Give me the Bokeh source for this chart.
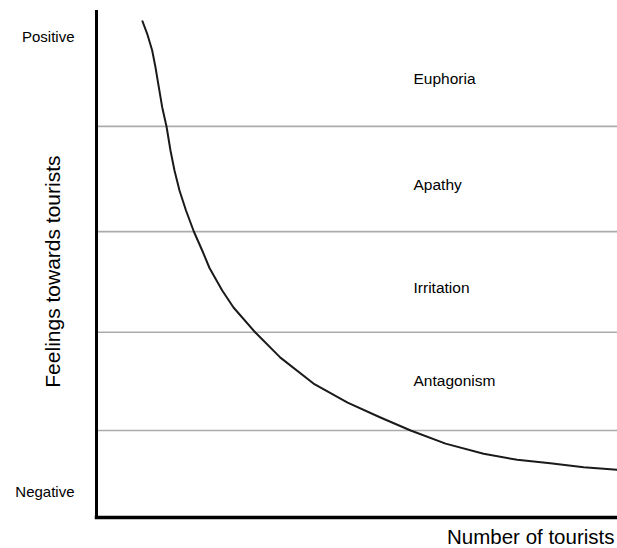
import math
from bokeh.plotting import figure
from bokeh.models import ColumnDataSource, Range1d
from bokeh.core.properties import value
from bokeh.embed import file_html
from bokeh.resources import INLINE

# ---- data ----
curve_x = [8.77, 9.73, 10.69, 11.32, 11.96, 12.61, 13.44, 14.2, 14.97, 15.93, 17.18,
           18.68, 20.29, 21.69, 24.13, 26.3, 30.5, 35.3, 41.65, 48.2, 54.5, 60.3,
           67.0, 74.3, 80.75, 87.1, 93.5, 100.0]
curve_y = [98.22, 95.59, 92.29, 88.99, 85.04, 81.09, 77.27, 72.53, 68.58, 64.62, 60.67,
           56.52, 52.77, 49.31, 44.86, 41.5, 36.56, 31.6, 26.48, 22.7, 19.76, 17.2,
           14.6, 12.6, 11.4, 10.7, 9.94, 9.43]

zone_bounds = [77.3, 56.5, 36.6, 17.2]
zone_names = ["Euphoria", "Apathy", "Irritation", "Antagonism"]
zone_label_y = [86.8, 65.9, 45.5, 27.1]
zone_label_x = [60.85, 60.85, 60.85, 60.85]

pole_names = ["Positive", "Negative"]
pole_y = [95.0, 5.1]

x_title = "Number of tourists"
y_title = "Feelings towards tourists"

x_min, x_max = 0.0, 100.0     # data extent of the axes
y_min, y_max = 0.0, 100.0

FONT = "Liberation Sans"

# ---- layout (pixels) ----
W, H = 617, 548
FRAME_L, FRAME_R = 96, 617     # where x_min / x_max fall on the canvas
FRAME_T, FRAME_B = 11, 517     # where y_max / y_min fall on the canvas
sx = (FRAME_R - FRAME_L) / (x_max - x_min)
sy = (FRAME_B - FRAME_T) / (y_max - y_min)

def px_to_x(px):
    return x_min + (px - FRAME_L) / sx

def px_to_y(py):
    return y_min + (FRAME_B - py) / sy

p = figure(width=W, height=H,
           x_range=Range1d(px_to_x(0), px_to_x(W)),
           y_range=Range1d(px_to_y(H), px_to_y(0)),
           x_axis_location=None, y_axis_location=None,
           output_backend="svg", toolbar_location=None, min_border=0)
p.outline_line_color = None
p.background_fill_color = "white"
p.border_fill_color = "white"
p.grid.visible = False

# zone boundary lines
p.segment(x0=[x_min] * len(zone_bounds), x1=[x_max] * len(zone_bounds),
          y0=zone_bounds, y1=zone_bounds, line_color="#ababab", line_width=1.6)

# curve
p.line(curve_x, curve_y, line_color="#1a1a1a", line_width=2, line_join="round")

# axis lines
p.segment(x0=[x_min], y0=[y_min], x1=[x_min], y1=[y_max],
          line_color="black", line_width=3, line_cap="square")
p.segment(x0=[x_min], y0=[y_min], x1=[x_max], y1=[y_min],
          line_color="black", line_width=3.5, line_cap="square")

# zone labels
zsrc = ColumnDataSource(dict(x=zone_label_x, y=zone_label_y, t=zone_names))
p.text(x="x", y="y", text="t", source=zsrc, text_align="left",
       text_baseline="middle", text_font_size="15.5px", text_color="black",
       text_font=value(FONT))

# Positive / Negative
psrc = ColumnDataSource(dict(x=[px_to_x(74)] * len(pole_names), y=pole_y, t=pole_names))
p.text(x="x", y="y", text="t", source=psrc, text_align="right",
       text_baseline="middle", text_font_size="15px", text_color="black",
       text_font=value(FONT))

# axis titles
p.text(x=[px_to_x(52)], y=[(y_min + y_max) / 2 - 1.4], text=[y_title],
       angle=math.pi / 2, text_align="center", text_baseline="middle",
       text_font_size="21px", text_color="black", text_font=value(FONT))
p.text(x=[px_to_x(614)], y=[px_to_y(535.5)], text=[x_title],
       text_align="right", text_baseline="middle",
       text_font_size="20.5px", text_color="black", text_font=value(FONT))

open("out.html", "w").write(file_html(p, INLINE))
